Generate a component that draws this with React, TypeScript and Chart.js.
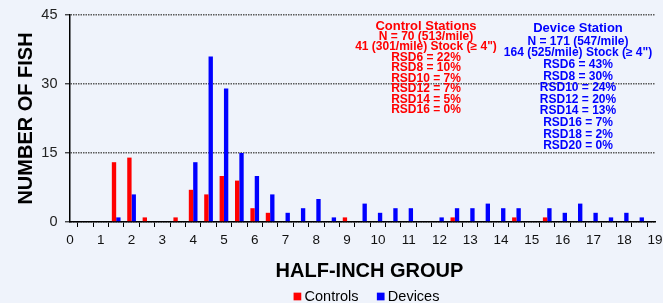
import React, { useEffect, useRef } from 'react';
import { Chart, registerables } from 'chart.js';

Chart.register(...registerables);

// Half-inch groups (category labels)
const groups = [
  '0', '0.5', '1', '1.5', '2', '2.5', '3', '3.5', '4', '4.5',
  '5', '5.5', '6', '6.5', '7', '7.5', '8', '8.5', '9', '9.5',
  '10', '10.5', '11', '11.5', '12', '12.5', '13', '13.5', '14', '14.5',
  '15', '15.5', '16', '16.5', '17', '17.5', '18', '18.5', '19',
];

// Number of fish per half-inch group
const controls = [
  0, 0, 0, 13, 14, 1, 0, 1, 7, 6,
  10, 9, 3, 2, 0, 0, 0, 0, 1, 0,
  0, 0, 0, 0, 0, 1, 0, 0, 0, 1,
  0, 1, 0, 0, 0, 0, 0, 0, 0,
];
const devices = [
  0, 0, 0, 1, 6, 0, 0, 0, 13, 36,
  29, 15, 10, 6, 2, 3, 5, 1, 0, 4,
  2, 3, 3, 0, 1, 3, 3, 4, 3, 3,
  0, 3, 2, 4, 2, 1, 2, 1, 0,
];

const yTicks = [0, 15, 30, 45];
const seriesNames = ['Controls', 'Devices'];
const seriesColors = ['#ff0000', '#0000ff'];
const xTitle = 'HALF-INCH GROUP';
const yTitle = 'NUMBER OF FISH';

const controlTitle = 'Control Stations';
const controlLines = [
  'N = 70 (513/mile)',
  '41 (301/mile) Stock (\u2265 4")',
  'RSD6 = 22%',
  'RSD8 = 10%',
  'RSD10 = 7%',
  'RSD12 = 7%',
  'RSD14 = 5%',
  'RSD16 = 0%',
];
const deviceTitle = 'Device Station';
const deviceLines = [
  'N = 171 (547/mile)',
  '164 (525/mile) Stock (\u2265 4")',
  'RSD6 = 43%',
  'RSD8 = 30%',
  'RSD10 = 24%',
  'RSD12 = 20%',
  'RSD14 = 13%',
  'RSD16 = 7%',
  'RSD18 = 2%',
  'RSD20 = 0%',
];

const FONT = 'Arial, "Liberation Sans", sans-serif';
const BG = '#eff3fb';

export default function App() {
  const ref = useRef<HTMLCanvasElement>(null);

  useEffect(() => {
    document.body.style.margin = '0';
    document.body.style.background = BG;
    const canvas = ref.current;
    if (!canvas) return;

    const bgPlugin = {
      id: 'bgFill',
      beforeDraw(chart: any) {
        const { ctx, width, height } = chart;
        ctx.save();
        ctx.fillStyle = BG;
        ctx.fillRect(0, 0, width, height);
        ctx.restore();
      },
    };

    const notesPlugin = {
      id: 'notes',
      afterDraw(chart: any) {
        const ctx = chart.ctx;
        const area = chart.chartArea;
        ctx.save();
        ctx.textAlign = 'center';
        ctx.textBaseline = 'middle';

        // Control block
        ctx.fillStyle = seriesColors[0];
        ctx.font = `bold 13px ${FONT}`;
        ctx.fillText(controlTitle, 426, 26.5);
        ctx.font = `bold 12px ${FONT}`;
        controlLines.forEach((t, i) => ctx.fillText(t, 426, 36.6 + i * 10.45));

        // Device block
        ctx.fillStyle = seriesColors[1];
        ctx.font = `bold 13px ${FONT}`;
        ctx.fillText(deviceTitle, 578, 28.5);
        ctx.font = `bold 12px ${FONT}`;
        deviceLines.forEach((t, i) => ctx.fillText(t, 578, 41.5 + i * 11.6));

        // X axis title
        ctx.fillStyle = '#000';
        ctx.font = `bold 20px ${FONT}`;
        ctx.fillText(xTitle, 369.5, 271);

        // Legend
        ctx.font = `14.5px ${FONT}`;
        const box = 7.7;
        const gap = 3.3;
        const sep = 18.3;
        const widths = seriesNames.map((n) => ctx.measureText(n).width);
        const total = widths.reduce((a, w) => a + box + gap + w, 0) + sep * (seriesNames.length - 1);
        let x = (area.left + area.right) / 2 + 4 - total / 2;
        const ly = 296.5;
        ctx.textAlign = 'left';
        seriesNames.forEach((n, i) => {
          ctx.fillStyle = seriesColors[i];
          ctx.fillRect(x, ly - box / 2, box, box);
          ctx.fillStyle = '#000';
          ctx.fillText(n, x + box + gap, ly + 0.5);
          x += box + gap + widths[i] + sep;
        });
        ctx.restore();
      },
    };

    const chart = new Chart(canvas, {
      type: 'bar',
      data: {
        labels: groups,
        datasets: [
          { label: seriesNames[0], data: controls, backgroundColor: seriesColors[0], borderWidth: 0 },
          { label: seriesNames[1], data: devices, backgroundColor: seriesColors[1], borderWidth: 0 },
        ],
      },
      options: {
        animation: false,
        responsive: false,
        maintainAspectRatio: false,
        layout: { padding: { left: 10, right: 8, top: 15, bottom: 16 } },
        datasets: { bar: { categoryPercentage: 0.565, barPercentage: 1 } },
        plugins: {
          legend: { display: false },
          tooltip: { enabled: false },
        },
        scales: {
          x: {
            type: 'category',
            offset: false,
            grid: {
              drawOnChartArea: false,
              drawTicks: true,
              tickLength: 5,
              tickColor: '#000',
              tickWidth: 1,
            },
            border: { color: '#000', width: 1.5 },
            ticks: {
              autoSkip: false,
              maxRotation: 0,
              minRotation: 0,
              padding: 5,
              color: '#111',
              font: { family: FONT, size: 13.5 },
              callback: (_v: any, i: number) =>
                Number.isInteger(Number(groups[i])) ? groups[i] : '',
            },
            afterFit: (s: any) => {
              s.height = 65;
              s.paddingLeft = 0;
              s.paddingRight = 0;
            },
          },
          y: {
            min: 0,
            max: 45,
            afterBuildTicks: (s: any) => {
              s.ticks = yTicks.map((v) => ({ value: v }));
            },
            ticks: {
              padding: 7.5,
              color: '#222',
              font: { family: FONT, size: 14.5 },
            },
            grid: {
              color: '#5a5a5a',
              lineWidth: 1.6,
              tickColor: '#000',
              tickLength: 5,
              tickWidth: 1,
              tickBorderDash: [],
            },
            border: { color: '#000', width: 1.5, dash: [1.5, 1] },
            title: {
              display: true,
              text: yTitle,
              color: '#000',
              font: { family: FONT, size: 20, weight: 'bold' },
              padding: { top: 4, bottom: 4 },
            },
            afterFit: (s: any) => {
              s.width = 60;
              s.paddingTop = 0;
              s.paddingBottom = 0;
            },
          },
        },
      },
      plugins: [bgPlugin, notesPlugin],
    } as any);

    return () => chart.destroy();
  }, []);

  return (
    <div style={{ position: 'absolute', left: 0, top: 0, width: 663, height: 303 }}>
      <canvas ref={ref} width={663} height={303} style={{ display: 'block', width: 663, height: 303 }} />
    </div>
  );
}
